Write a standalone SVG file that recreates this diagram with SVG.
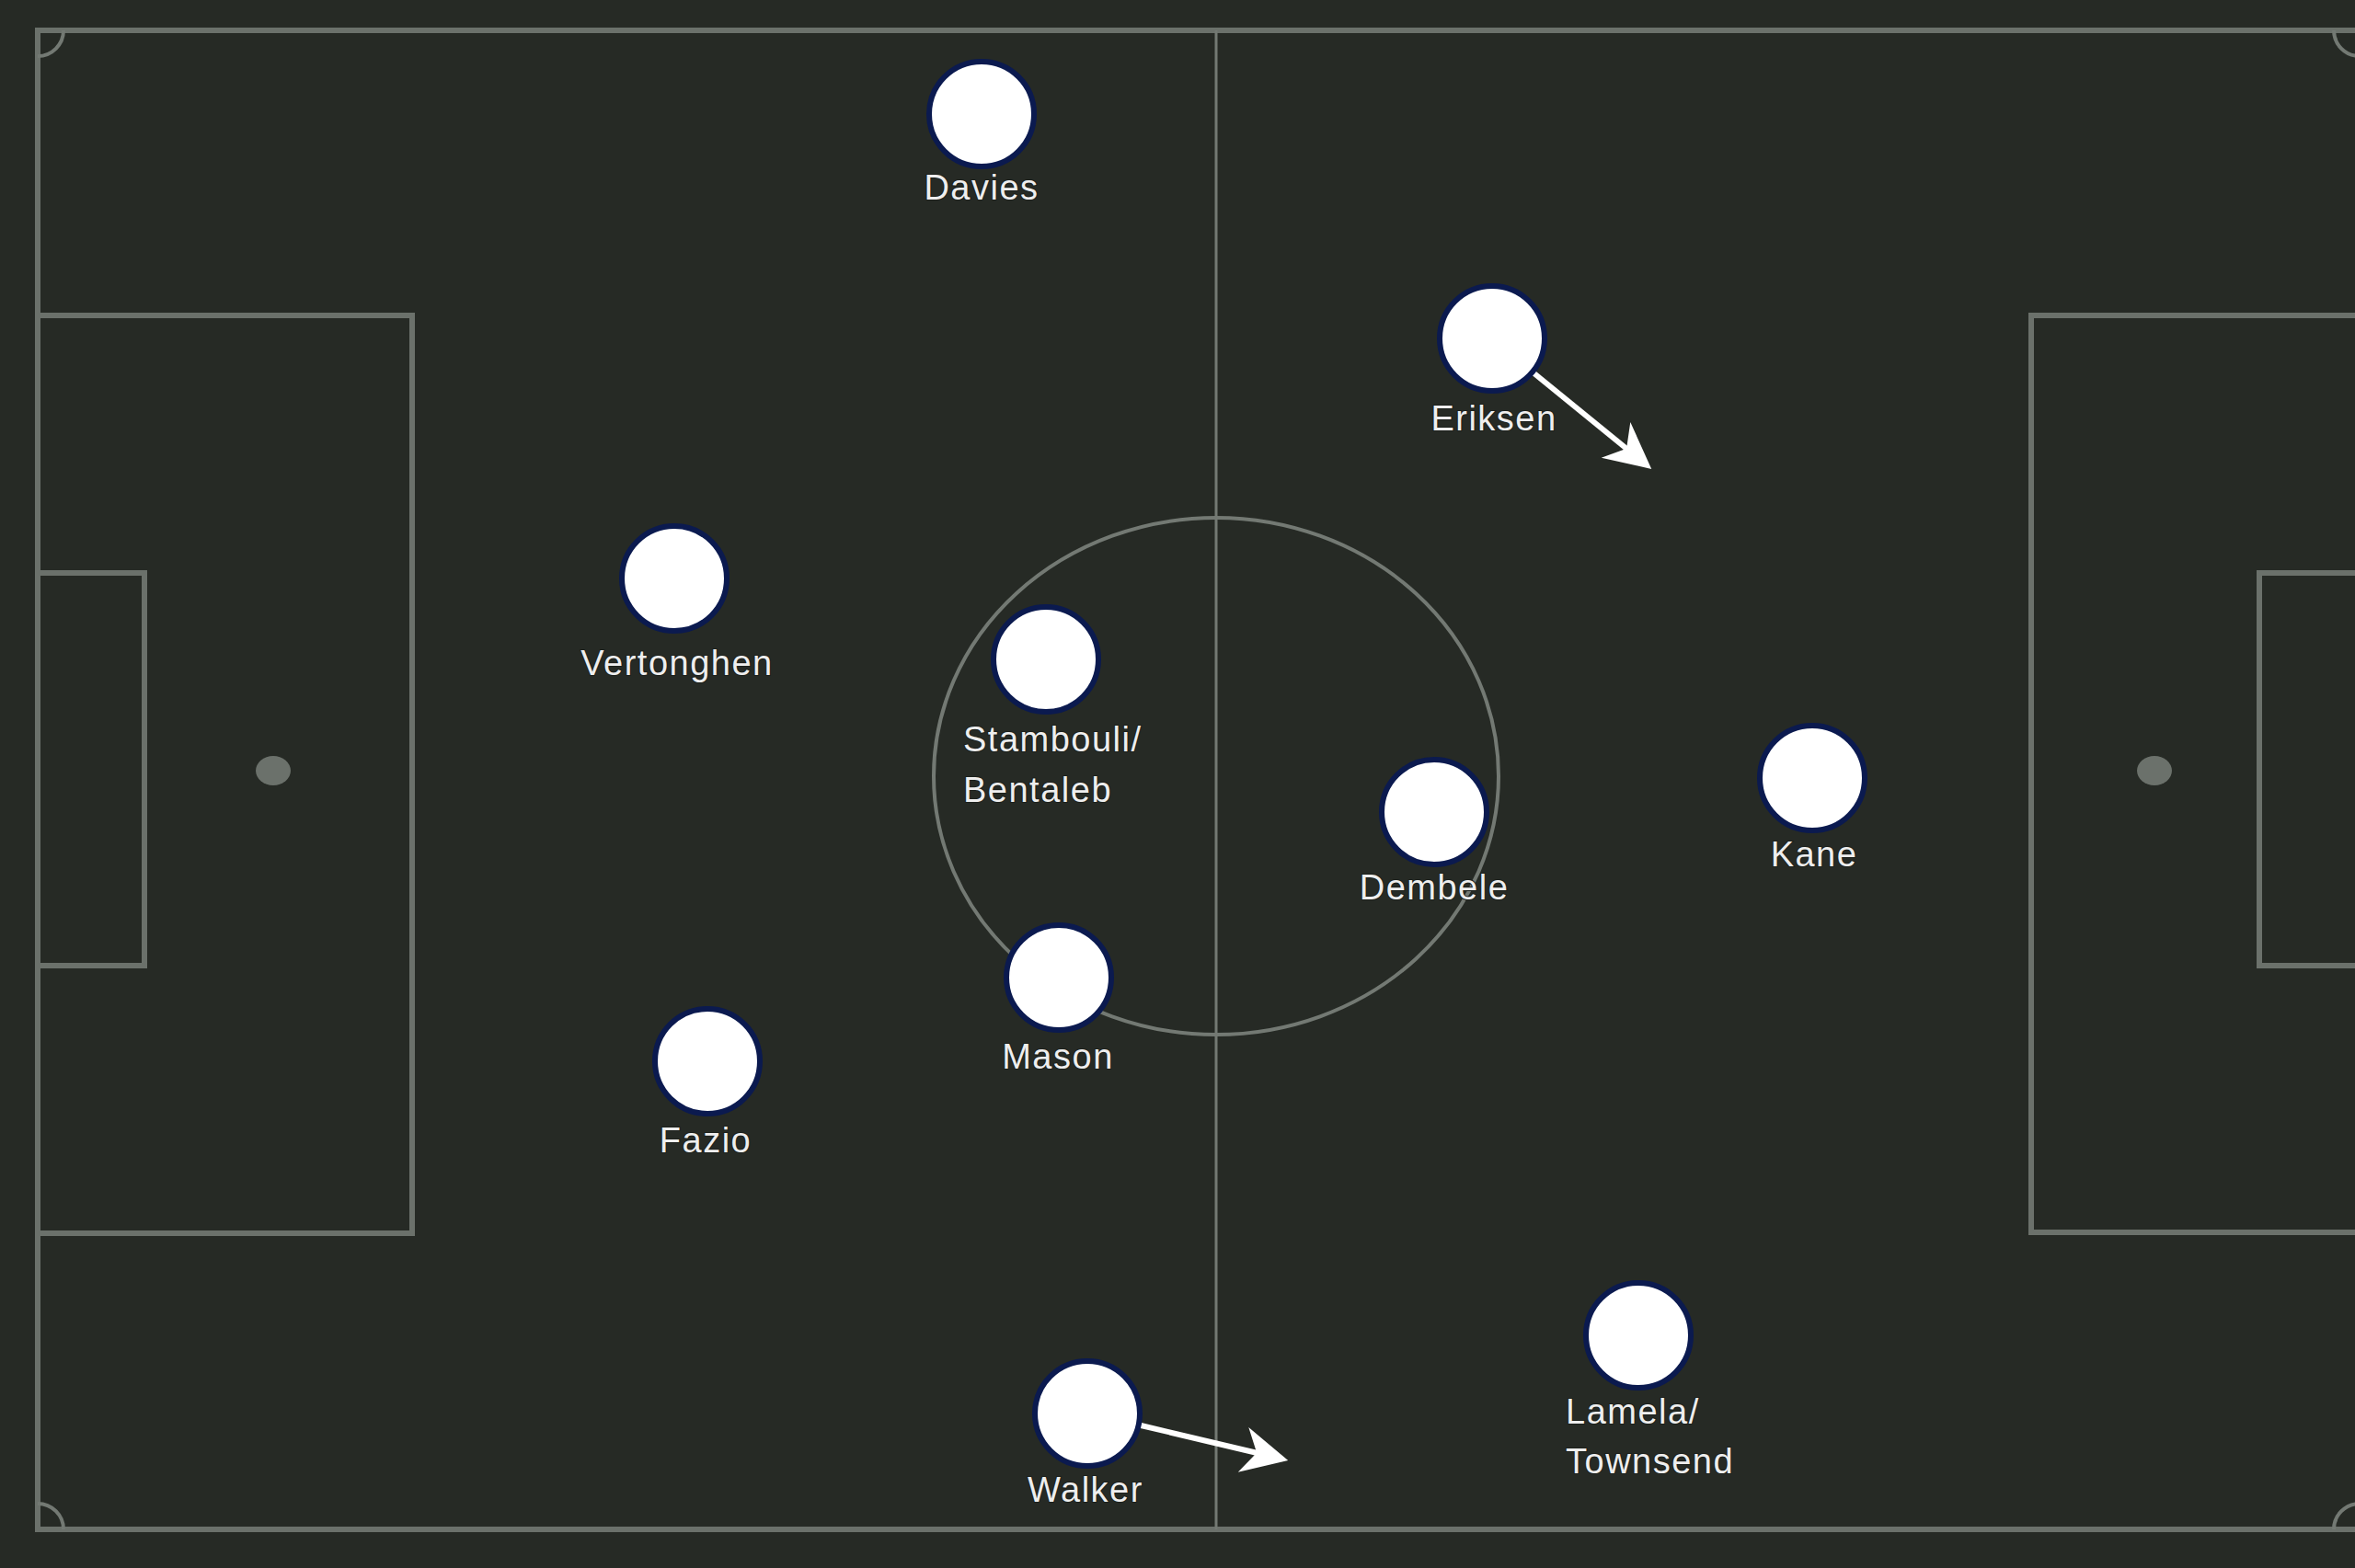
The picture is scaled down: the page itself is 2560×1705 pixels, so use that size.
<svg xmlns="http://www.w3.org/2000/svg" width="2560" height="1705" viewBox="0 0 2560 1705">
<defs>
<style>
.pl{fill:none;stroke:#6b716b;stroke-width:6}
.thin{fill:none;stroke:#737973;stroke-width:3}
.spot{fill:#6b716b}
.p{fill:#ffffff;stroke:#0b1a4f;stroke-width:6}
.lbl{font-family:"Liberation Sans",Arial,sans-serif;font-size:38px;letter-spacing:1.5px;fill:#eeeeee;stroke:#1c201c;stroke-width:2;paint-order:stroke}
.c{text-anchor:middle}
.arr{stroke:#ffffff;stroke-width:6;fill:none}
</style>
<marker id="ah" markerUnits="userSpaceOnUse" viewBox="-25 -30 60 60" refX="0" refY="0" markerWidth="60" markerHeight="60" orient="auto">
<path d="M30,0 L-20,-25 L-5,0 L-20,25 Z" fill="#ffffff"/>
</marker>
</defs>
<rect width="2560" height="1705" fill="#262a25"/>
<g id="pitch">
<rect class="pl" x="41" y="33" width="2524" height="1630"/>
<rect class="pl" x="41" y="343" width="407" height="998"/>
<rect class="pl" x="41" y="623" width="116" height="427"/>
<rect class="pl" x="2208" y="343" width="357" height="997"/>
<rect class="pl" x="2456" y="623" width="109" height="427"/>
<line class="thin" x1="1322" y1="33" x2="1322" y2="1663"/>
<ellipse class="thin" cx="1322" cy="844" rx="307" ry="281" style="stroke-width:4"/>
<ellipse class="spot" cx="297" cy="838" rx="19" ry="16"/>
<ellipse class="spot" cx="2342" cy="838" rx="19" ry="16"/>
<path class="thin" style="stroke-width:4" d="M69,33 A28,28 0 0 1 41,61 M41,1635 A28,28 0 0 1 69,1663 M2565,61 A28,28 0 0 1 2537,33 M2537,1663 A28,28 0 0 1 2565,1635"/>
</g>
<g id="connectors">
<line class="arr" x1="1664" y1="403" x2="1772" y2="491" marker-end="url(#ah)"/>
<line class="arr" x1="1236" y1="1549" x2="1371" y2="1581" marker-end="url(#ah)"/>
</g>
<g id="davies"><circle class="p" cx="1067" cy="124" r="57"/><text class="lbl c" x="1067" y="217">Davies</text></g>
<g id="eriksen"><circle class="p" cx="1622" cy="368" r="57"/><text class="lbl c" x="1624" y="468">Eriksen</text></g>
<g id="vertonghen"><circle class="p" cx="733" cy="629" r="57"/><text class="lbl c" x="736" y="734">Vertonghen</text></g>
<g id="stambouli-bentaleb"><circle class="p" cx="1137" cy="717" r="57"/><text class="lbl" x="1047" y="817">Stambouli/</text><text class="lbl" x="1047" y="872">Bentaleb</text></g>
<g id="dembele"><circle class="p" cx="1559" cy="883" r="57"/><text class="lbl c" x="1559" y="978">Dembele</text></g>
<g id="kane"><circle class="p" cx="1970" cy="846" r="57"/><text class="lbl c" x="1972" y="942">Kane</text></g>
<g id="mason"><circle class="p" cx="1151" cy="1063" r="57"/><text class="lbl c" x="1150" y="1162">Mason</text></g>
<g id="fazio"><circle class="p" cx="769" cy="1154" r="57"/><text class="lbl c" x="767" y="1253">Fazio</text></g>
<g id="walker"><circle class="p" cx="1182" cy="1537" r="57"/><text class="lbl c" x="1180" y="1633">Walker</text></g>
<g id="lamela-townsend"><circle class="p" cx="1781" cy="1452" r="57"/><text class="lbl" x="1702" y="1548">Lamela/</text><text class="lbl" x="1702" y="1602">Townsend</text></g>
</svg>
